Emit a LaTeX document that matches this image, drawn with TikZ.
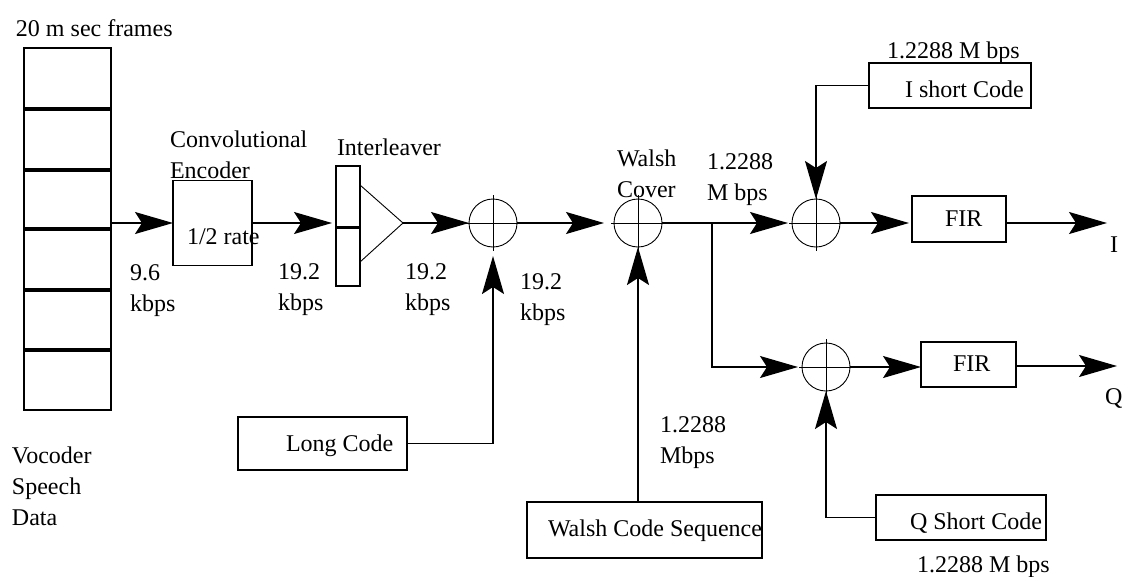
\documentclass[tikz,border=0pt]{standalone}
\usepackage{fontspec}
\setmainfont{Liberation Serif}
\usetikzlibrary{arrows.meta}

\begin{document}
\begin{tikzpicture}[x=1pt,y=-1pt,
  every node/.style={inner sep=0pt, outer sep=0pt},
  lbl/.style={font=\fontsize{24}{31}\selectfont, align=left, anchor=north west},
  wire/.style={line width=1.5pt},
  flow/.style={wire, -{Stealth[length=38pt,width=22pt,inset=7pt]}},
  box/.style={draw, rectangle, line width=1.5pt},
  xorc/.style={draw, circle, line width=0.9pt, minimum size=48pt},
]
\useasboundingbox (0,0) rectangle (1127,576);

% speech frame stack
\node[box, minimum width=87pt, minimum height=362pt] (frames) at (67.5,229) {};
\foreach \yy in {109,170,229,290,350}
  \draw[line width=3.5pt] (24,\yy) -- (111,\yy);

% processing blocks
\node[box, minimum width=79pt, minimum height=85pt] (enc) at (212.5,223) {};
\node[box, minimum width=24pt, minimum height=120pt] (il) at (348,226) {};
\draw[line width=3pt] (il.west |- 0,227) -- (il.east |- 0,227);
\draw[line width=0.9pt] (il.east |- 0,185) -- (403,223) -- (il.east |- 0,262);
\coordinate (apex) at (403,223);

\node[xorc] (x1) at (493,223) {};
\node[xorc] (x2) at (638,223) {};
\node[xorc] (x3) at (816,223) {};
\node[xorc] (x4) at (826,367) {};
\foreach \n in {x1,x2,x3,x4} {
  \draw[line width=1pt] ([yshift=4pt]\n.north) -- ([yshift=-4pt]\n.south);
  \draw[line width=1pt] ([xshift=-3pt]\n.west) -- ([xshift=3pt]\n.east);
}

\node[box, minimum width=94pt, minimum height=46pt] (fir1) at (959,219) {};
\node[box, minimum width=95pt, minimum height=45pt] (fir2) at (968.5,364.5) {};

\node[box, minimum width=169pt, minimum height=53pt] (lc) at (322.5,443.5) {};
\node[box, minimum width=235pt, minimum height=56pt] (wcs) at (644.5,530) {};
\node[box, minimum width=162pt, minimum height=45pt] (isc) at (950,85.5) {};
\node[box, minimum width=170pt, minimum height=45pt] (qsc) at (961,517.5) {};

\coordinate (br) at (712,223);
\coordinate (outI) at (1107,223);
\coordinate (outQ) at (1117,366);

% signal path
\draw[flow] (frames.east |- enc.west) -- (enc.west);
\draw[flow, shorten >=4pt] (enc.east) -- (enc.east -| il.west);
\draw[flow] (apex) -- (x1.west);
\draw[flow, shorten >=10pt] (x1.east) -- (x2.west);
\draw[wire] (x2.east) -- (br);
\draw[flow, shorten >=4pt] (br) -- (br -| x3.west);
\draw[flow, shorten >=4pt] (br) |- (x4.west);
\draw[flow, shorten >=3pt] (x3.east) -- (x3.east -| fir1.west);
\draw[flow] (x4.east) -- (x4.east -| fir2.west);
\draw[flow] (fir1.east |- outI) -- (outI);
\draw[flow] (fir2.east |- outQ) -- (outQ);

% code inputs
\draw[flow, shorten >=9pt] (lc.east) -| (x1.south);
\draw[flow] (x2 |- wcs.north) -- (x2.south);
\draw[flow] (isc.west) -| (x3.north);
\draw[flow] (qsc.west) -| (x4.south);

% labels
\node[lbl] at (16,20) {20 m sec frames};
\node[lbl] at (170,131) {Convolutional\\Encoder};
\node[lbl] at (337,139) {Interleaver};
\node[lbl] at (187,229) {1/2 rate};
\node[lbl] at (130,265) {9.6\\kbps};
\node[lbl] at (278,264) {19.2\\kbps};
\node[lbl] at (405,264) {19.2\\kbps};
\node[lbl] at (520,274) {19.2\\kbps};
\node[lbl] at (617,150) {Walsh\\Cover};
\node[lbl] at (707,154) {1.2288\\M bps};
\node[lbl] at (887,42) {1.2288 M bps};
\node[lbl] at (905,81) {I short Code};
\node[lbl] at (945,211) {FIR};
\node[lbl] at (1110,237) {I};
\node[lbl] at (1105,389) {Q};
\node[lbl] at (953,356) {FIR};
\node[lbl] at (910,513) {Q Short Code};
\node[lbl] at (917,556) {1.2288 M bps};
\node[lbl] at (660,417) {1.2288\\Mbps};
\node[lbl] at (548,520) {Walsh Code Sequence};
\node[lbl] at (286,435) {Long Code};
\node[lbl] at (12,447) {Vocoder\\Speech\\Data};
\end{tikzpicture}
\end{document}
